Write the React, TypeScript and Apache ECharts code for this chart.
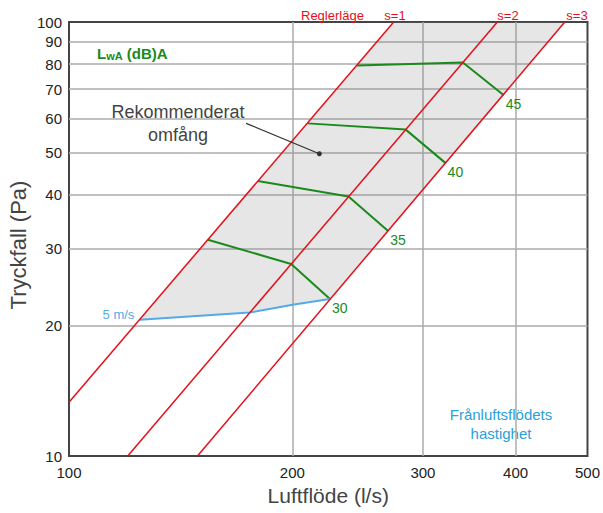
import { useEffect, useRef } from 'react';
import * as echarts from 'echarts';

const FONT = '"Liberation Sans", Arial, Helvetica, sans-serif';

// Axis ticks
const flowTicks = [100, 200, 300, 400, 500];
const pressureTicks = [10, 20, 30, 40, 50, 60, 70, 80, 90, 100];

// Fan setting curves (Reglerläge), endpoints as [l/s, Pa]
const setting1 = [[100, 13.3], [274, 100]];
const setting2 = [[120, 10], [378, 100]];
const setting3 = [[149, 10], [466, 100]];

// Sound power contours LwA (dB)A: points on s=1, s=2, s=3
const lwa30 = [[153.9, 31.5], [199.3, 27.7], [224.8, 23.0]];
const lwa35 = [[179.7, 43.0], [238.1, 39.6], [269.3, 33.0]];
const lwa40 = [[209.7, 58.4], [284.4, 56.5], [321.9, 47.3]];
const lwa45 = [[244.4, 79.4], [339.6, 80.7], [385.6, 67.8]];

// Exhaust air velocity 5 m/s
const velocity5 = [[124.6, 20.6], [175.1, 21.4], [200.2, 22.3], [224.8, 23.0]];

// Outline of the recommended operating range
const rangeOutline = [
  [124.6, 20.6], [274, 100], [466, 100], [224.8, 23.0], [200.2, 22.3], [175.1, 21.4],
];

// Callout from the "Rekommenderat omfång" text into the range
const callout = [[173.3, 58.4], [217.5, 49.7]];

const RED = '#e3101b';
const GREEN = '#1b8a1b';
const BLUE = '#55aae6';

function redLine(data: number[][]) {
  return {
    type: 'line',
    data,
    symbol: 'none',
    lineStyle: { color: RED, width: 1.5 },
    z: 4,
  };
}

function contour(data: number[][], value: string) {
  return {
    type: 'line',
    data,
    symbol: 'none',
    lineStyle: { color: GREEN, width: 2 },
    endLabel: {
      show: true,
      formatter: value,
      color: GREEN,
      fontSize: 14,
      fontFamily: FONT,
      distance: 2,
      offset: [0, 9],
    },
    z: 3,
  };
}

export default function App() {
  const ref = useRef<HTMLDivElement>(null);

  useEffect(() => {
    if (!ref.current) return;
    const chart = echarts.init(ref.current, undefined, { renderer: 'svg' });

    chart.setOption({
      animation: false,
      backgroundColor: '#ffffff',
      textStyle: { fontFamily: FONT },
      grid: {
        left: 69,
        right: 14,
        top: 22,
        bottom: 57,
        show: true,
        borderColor: '#444444',
        borderWidth: 2,
        backgroundColor: 'transparent',
      },
      xAxis: {
        type: 'log',
        logBase: 10,
        min: 100,
        max: 500,
        name: 'Luftflöde (l/s)',
        nameLocation: 'middle',
        nameGap: 28,
        nameTextStyle: { fontSize: 21, color: '#444444', fontFamily: FONT },
        axisLine: { show: false },
        axisTick: { show: false, customValues: flowTicks },
        axisLabel: {
          customValues: flowTicks,
          formatter: (v: number) => String(Math.round(v)),
          fontSize: 15,
          color: '#222222',
          margin: 9,
          fontFamily: FONT,
        },
        splitLine: {
          show: true,
          showMinLine: false,
          showMaxLine: false,
          lineStyle: { color: '#ababab', width: 1.5 },
        },
      },
      yAxis: {
        type: 'log',
        logBase: 10,
        min: 10,
        max: 100,
        axisLine: { show: false },
        axisTick: { show: false, customValues: pressureTicks },
        axisLabel: {
          customValues: pressureTicks,
          formatter: (v: number) => String(Math.round(v)),
          fontSize: 15,
          color: '#222222',
          margin: 7,
          fontFamily: FONT,
        },
        splitLine: {
          show: true,
          showMinLine: false,
          showMaxLine: false,
          lineStyle: { color: '#ababab', width: 1.5 },
        },
      },
      series: [
        {
          type: 'custom',
          coordinateSystem: 'cartesian2d',
          data: [rangeOutline[0]],
          silent: true,
          z: 1,
          renderItem: (_params: any, api: any) => ({
            type: 'polygon',
            shape: { points: rangeOutline.map((p) => api.coord(p)) },
            style: { fill: 'rgba(120,120,120,0.19)' },
          }),
        },
        redLine(setting1),
        redLine(setting2),
        redLine(setting3),
        contour(lwa30, '30'),
        contour(lwa35, '35'),
        contour(lwa40, '40'),
        contour(lwa45, '45'),
        {
          type: 'line',
          data: velocity5,
          symbol: 'circle',
          symbolSize: (_v: any, p: any) => (p.dataIndex === 0 ? 1 : 0),
          showSymbol: true,
          itemStyle: { color: BLUE },
          lineStyle: { color: BLUE, width: 2 },
          label: {
            show: true,
            position: 'left',
            distance: 5,
            offset: [0, -5],
            color: BLUE,
            fontSize: 13,
            fontFamily: FONT,
            formatter: (p: any) => (p.dataIndex === 0 ? '5 m/s' : ''),
          },
          z: 3,
        },
        {
          type: 'line',
          data: callout,
          symbol: 'circle',
          symbolSize: (_v: any, p: any) => (p.dataIndex === 1 ? 5 : 0),
          showSymbol: true,
          itemStyle: { color: '#333333' },
          lineStyle: { color: '#333333', width: 1.2 },
          z: 5,
        },
      ],
      graphic: [
        {
          type: 'text',
          x: 18,
          y: 245,
          rotation: Math.PI / 2,
          style: {
            text: 'Tryckfall (Pa)',
            fill: '#444444',
            fontSize: 22,
            fontFamily: FONT,
            align: 'center',
            verticalAlign: 'middle',
          },
        },
        {
          type: 'text',
          x: 301,
          y: 15,
          style: {
            text: 'Reglerläge',
            fill: RED,
            fontSize: 13,
            fontFamily: FONT,
            align: 'left',
            verticalAlign: 'middle',
          },
        },
        {
          type: 'text',
          x: 395,
          y: 15,
          style: { text: 's=1', fill: RED, fontSize: 13, fontFamily: FONT, align: 'center', verticalAlign: 'middle' },
        },
        {
          type: 'text',
          x: 508,
          y: 15,
          style: { text: 's=2', fill: RED, fontSize: 13, fontFamily: FONT, align: 'center', verticalAlign: 'middle' },
        },
        {
          type: 'text',
          x: 577,
          y: 15,
          style: { text: 's=3', fill: RED, fontSize: 13, fontFamily: FONT, align: 'center', verticalAlign: 'middle' },
        },
        {
          type: 'text',
          x: 97,
          y: 53,
          style: {
            text: '{l|L}{s|wA}{l| (dB)A}',
            verticalAlign: 'middle',
            align: 'left',
            rich: {
              l: { fill: GREEN, fontSize: 15, fontWeight: 'bold', fontFamily: FONT, color: GREEN },
              s: {
                fill: GREEN,
                color: GREEN,
                fontSize: 11,
                fontWeight: 'bold',
                fontFamily: FONT,
                padding: [6, 0, 0, 0],
              },
            },
          },
        },
        {
          type: 'text',
          x: 178,
          y: 123,
          style: {
            text: 'Rekommenderat\nomfång',
            fill: '#444444',
            fontSize: 18,
            lineHeight: 23,
            fontFamily: FONT,
            align: 'center',
            verticalAlign: 'middle',
          },
        },
        {
          type: 'text',
          x: 501,
          y: 424,
          style: {
            text: 'Frånluftsflödets\nhastighet',
            fill: '#2aa0dc',
            fontSize: 15,
            lineHeight: 19,
            fontFamily: FONT,
            align: 'center',
            verticalAlign: 'middle',
          },
        },
      ],
    });

    return () => chart.dispose();
  }, []);

  return (
    <div
      ref={ref}
      style={{ position: 'absolute', left: 0, top: 0, width: 603, height: 513 }}
    />
  );
}
